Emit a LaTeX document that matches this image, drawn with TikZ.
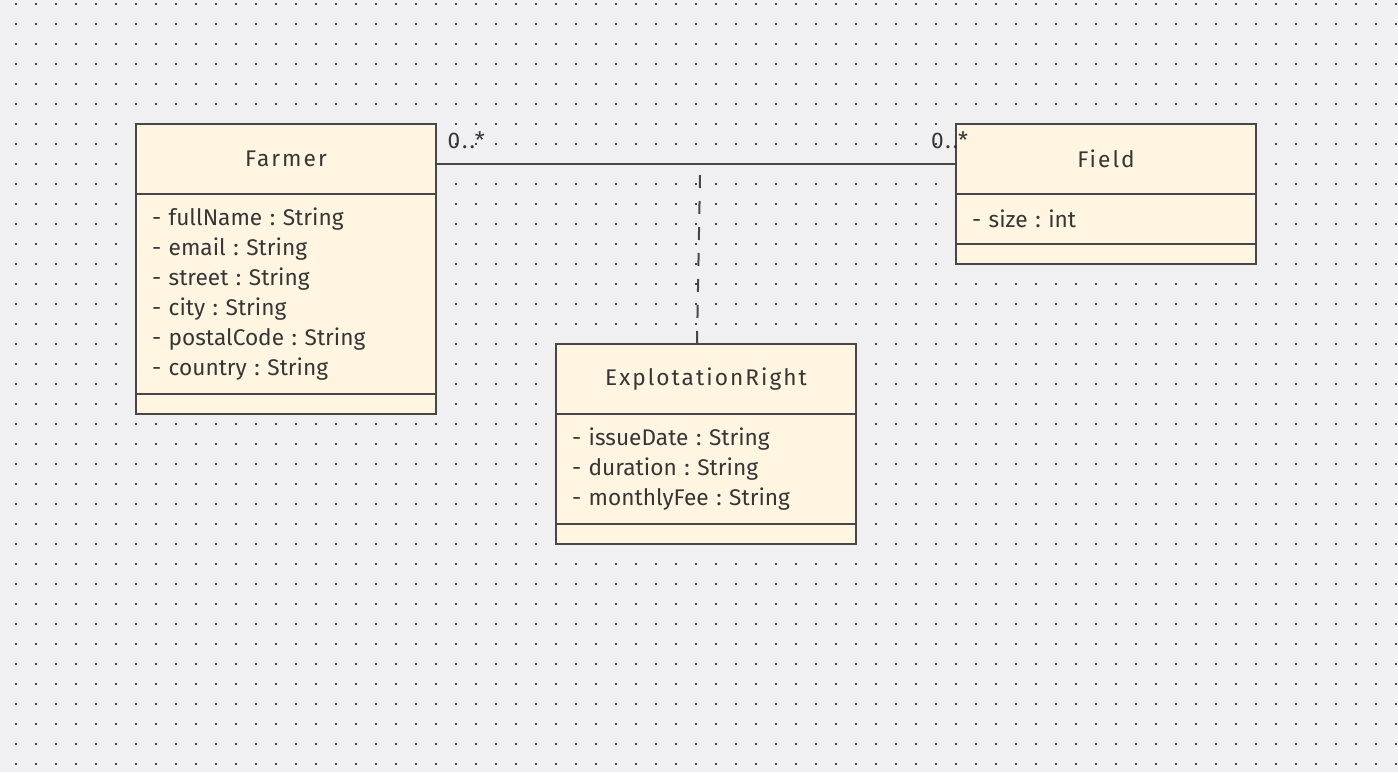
\documentclass[tikz,border=0pt]{standalone}
\usepackage{fontspec}
\setmainfont{Fira Sans}
\newfontfamily\headfont[LetterSpace=9]{Fira Sans}
\usepackage{xcolor}
\definecolor{bggray}{HTML}{F0F0F2}
\definecolor{dotgray}{HTML}{454545}
\definecolor{classfill}{HTML}{FFF5E1}
\definecolor{linegray}{HTML}{474747}
\definecolor{textgray}{HTML}{363636}
\frenchspacing

\begin{document}
\begin{tikzpicture}[x=0.75pt, y=-0.75pt,
    classbox/.style={draw=linegray, line width=1.5pt, fill=classfill, text=textgray,
        anchor=north west, minimum width=225pt, inner sep=0pt, outer sep=0pt,
        font=\fontsize{17}{22.5}\selectfont},
    classhead/.style={classbox, minimum height=52.5pt, font=\headfont\fontsize{17}{22.5}\selectfont},
    classattr/.style={classbox, align=left, text width=201pt},
    classops/.style={classbox, minimum height=15pt},
    mult/.style={text=textgray, inner sep=0pt, anchor=base west,
        font=\headfont\fontsize{17}{22.5}\selectfont},
    assoc/.style={draw=linegray, line width=1.5pt}]
    \useasboundingbox (0,0) rectangle (1398,772);
    \fill[bggray] (0,0) rectangle (1398,772);
    \foreach \x in {16,36,...,1396}
        \foreach \y in {4,24,...,764}
            \fill[dotgray] (\x-1,\y-1) rectangle (\x+1,\y+1);

    \node[classhead] (farmer) at (136,124) {Farmer};
    \node[classattr, minimum height=150pt] (farmerattrs) at (farmer.south west)
        {- fullName : String\\- email : String\\- street : String\\- city : String\\- postalCode : String\\- country : String};
    \node[classops] (farmerops) at (farmerattrs.south west) {};

    \node[classhead] (field) at (956,124) {Field};
    \node[classattr, minimum height=37.5pt] (fieldattrs) at (field.south west) {- size : int};
    \node[classops] (fieldops) at (fieldattrs.south west) {};

    \node[classhead] (expl) at (556,344) {ExplotationRight};
    \node[classattr, minimum height=82.5pt] (explattrs) at (expl.south west)
        {- issueDate : String\\- duration : String\\- monthlyFee : String};
    \node[classops] (explops) at (explattrs.south west) {};

    \draw[assoc] ([yshift=-30pt]farmer.north east)
        -- node[at start, mult, xshift=8pt, yshift=12pt] {0..*}
        node[at end, mult, xshift=-19.5pt, yshift=12pt] {0..*}
        ([yshift=-30pt]field.north west);
    \coordinate (assocmid) at (700,175);
    \draw[assoc, dash pattern=on 9.75pt off 9.75pt] (assocmid) -- ([xshift=-6.75pt]expl.north);
\end{tikzpicture}
\end{document}
